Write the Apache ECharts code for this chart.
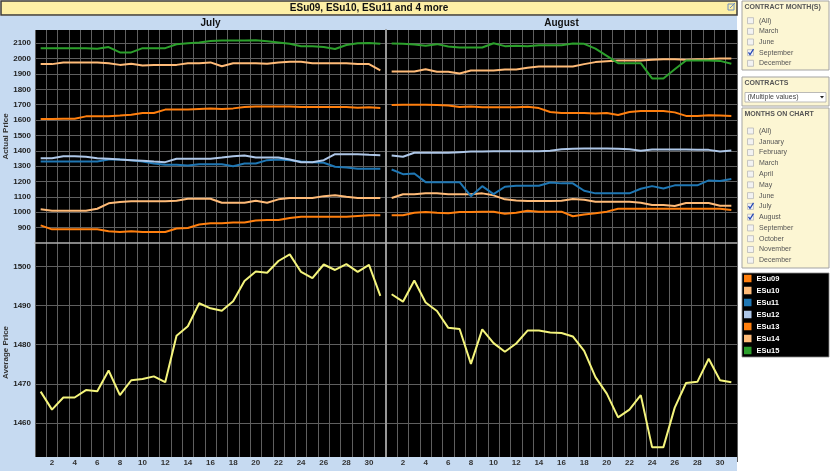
<!DOCTYPE html>
<html><head><meta charset="utf-8">
<script src="https://cdn.jsdelivr.net/npm/echarts@6/dist/echarts.min.js"></script>
<style>html,body{margin:0;padding:0;background:#fff;}#c{width:831px;height:471px;}</style>
</head><body><div id="c"></div>
<script>
const days = ['1','2','3','4','5','6','7','8','9','10','11','12','13','14','15','16','17','18','19','20','21','22','23','24','25','26','27','28','29','30','31'];
const names = ['ESu09','ESu10','ESu11','ESu12','ESu13','ESu14','ESu15'];
const colors = ['#ff7f0e','#ffbb78','#1f77b4','#aec7e8','#ff7f0e','#ffbb78','#2ca02c'];
const paneTitles = ['July','August'];
const chartTitle = 'ESu09, ESu10, ESu11 and 4 more';

const julyESu09 = [915,889,889,889,889,889,876,872,876,872,872,872,894,898,920,928,928,933,933,946,950,950,963,971,971,971,971,971,976,980,980];
const augESu09  = [980,980,997,1002,997,993,1002,1002,1004,1004,991,997,1010,1004,1004,1004,974,985,993,1004,1023,1023,1023,1023,1023,1023,1023,1023,1023,1023,1015];
const julyESu10 = [1019,1010,1010,1010,1010,1023,1058,1067,1071,1071,1071,1071,1075,1088,1088,1088,1062,1062,1062,1075,1062,1084,1093,1093,1093,1105,1110,1101,1093,1093,1093];
const augESu10  = [1093,1117,1117,1123,1123,1118,1118,1118,1123,1110,1084,1077,1073,1073,1073,1075,1086,1082,1069,1069,1069,1069,1062,1047,1047,1041,1060,1060,1060,1043,1043];
const julyESu11 = [1330,1330,1330,1330,1330,1330,1343,1343,1339,1330,1317,1309,1309,1304,1313,1313,1313,1300,1317,1317,1339,1343,1339,1330,1326,1322,1296,1291,1283,1283,1283];
const augESu11  = [1278,1248,1252,1196,1196,1196,1196,1105,1170,1118,1166,1173,1173,1173,1194,1188,1188,1140,1123,1123,1123,1123,1153,1170,1155,1175,1175,1175,1207,1203,1216];
const julyESu12 = [1352,1352,1365,1365,1361,1352,1348,1343,1339,1335,1330,1326,1348,1348,1348,1348,1356,1365,1369,1356,1356,1356,1343,1326,1326,1339,1378,1378,1378,1374,1371];
const augESu12  = [1369,1361,1387,1387,1387,1387,1391,1395,1395,1397,1397,1397,1397,1397,1400,1410,1413,1415,1415,1415,1413,1410,1400,1408,1408,1408,1408,1406,1406,1395,1402];
const julyESu13 = [1607,1607,1609,1609,1624,1624,1624,1629,1635,1646,1646,1668,1668,1668,1672,1676,1672,1676,1685,1689,1689,1689,1689,1685,1685,1685,1685,1685,1680,1683,1678];
const augESu13  = [1698,1700,1700,1700,1698,1694,1685,1689,1683,1683,1683,1683,1687,1678,1652,1646,1646,1646,1642,1646,1633,1652,1659,1659,1659,1650,1627,1627,1631,1629,1627];
const julyESu14 = [1964,1964,1975,1975,1975,1975,1970,1959,1966,1955,1959,1959,1959,1970,1970,1975,1950,1970,1970,1970,1966,1975,1979,1979,1970,1970,1970,1970,1964,1964,1923];
const augESu14  = [1916,1916,1916,1931,1914,1914,1903,1923,1923,1923,1929,1929,1940,1949,1949,1949,1949,1964,1977,1983,1988,1988,1988,1992,1996,1996,1992,1996,1998,2001,2001];
const julyESu15 = [2068,2068,2068,2068,2068,2064,2075,2040,2040,2068,2068,2068,2093,2100,2105,2115,2117,2117,2117,2120,2113,2105,2096,2080,2080,2075,2062,2088,2100,2102,2096];
const augESu15  = [2098,2096,2091,2083,2094,2078,2072,2072,2072,2100,2081,2083,2081,2087,2087,2087,2098,2096,2065,2018,1970,1970,1970,1871,1871,1931,1988,1988,1988,1985,1966];
const julyAvg = [1468.0,1463.4,1466.5,1466.5,1468.4,1468.1,1473.4,1467.1,1470.9,1471.2,1471.9,1470.4,1482.3,1484.7,1490.6,1489.3,1488.7,1491.1,1496.3,1498.7,1498.4,1501.4,1503.1,1498.6,1497.0,1500.5,1499.1,1500.6,1498.6,1500.4,1492.5];
const augAvg  = [1492.9,1491.0,1496.4,1490.8,1488.6,1484.3,1484.0,1475.1,1483.9,1480.4,1478.2,1480.3,1483.6,1483.6,1483.1,1483.0,1482.1,1478.4,1471.7,1467.5,1461.4,1463.4,1467.1,1453.8,1453.8,1463.9,1470.2,1470.5,1476.4,1470.9,1470.4];

const julySeries = [julyESu09,julyESu10,julyESu11,julyESu12,julyESu13,julyESu14,julyESu15];
const augSeries  = [augESu09,augESu10,augESu11,augESu12,augESu13,augESu14,augESu15];

const contractMonths = ['(All)','March','June','September','December'];
const contractChecked = ['September'];
const contractsValue = '(Multiple values)';
const chartMonths = ['(All)','January','February','March','April','May','June','July','August','September','October','November','December'];
const chartMonthsChecked = ['July','August'];

const FONT = '"Liberation Sans", Arial, sans-serif';
const BLUEBG = '#c6daf1';
const GRIDC = '#5f5f5f';

const chart = echarts.init(document.getElementById('c'), null, {renderer:'canvas'});

const grids = [
  {left:35, top:30, width:351, height:213},
  {left:386, top:30, width:351, height:213},
  {left:35, top:243, width:351, height:219},
  {left:386, top:243, width:351, height:219},
  {left:35, top:457, width:351, height:1, show:false},
  {left:386, top:457, width:351, height:1, show:false}
].map((g,i)=> i<4 ? Object.assign(g,{show:true, backgroundColor:'#000', borderWidth:0}) : g);

function plotX(gi, top){
  return {type:'category', gridIndex:gi, data:days, boundaryGap:true,
    axisLine: top ? {show:true, lineStyle:{color:'#b0b0b0', width:1.5}} : {show:false},
    axisTick:{show:false}, axisLabel:{show:false},
    splitLine:{show:true, interval:0, lineStyle:{color:GRIDC, width:1}}};
}
function labelX(gi){
  return {type:'category', gridIndex:gi, data:days, boundaryGap:true, z:5,
    axisLine:{show:false}, axisTick:{show:false}, splitLine:{show:false},
    axisLabel:{show:true, margin:1, interval:(i)=> i%2===1, fontSize:8, fontWeight:'bold', color:'#333', fontFamily:FONT}};
}
function plotY(gi, min, max, interval, showLabels, name, sep){
  return {type:'value', gridIndex:gi, min, max, interval,
    name: showLabels ? name : '', nameLocation:'middle', nameGap:23,
    nameTextStyle:{fontSize:8, fontWeight:'bold', color:'#333', fontFamily:FONT},
    axisLine: sep ? {show:true, lineStyle:{color:'#979797', width:2}} : {show:false},
    axisTick:{show:false},
    axisLabel:{show:showLabels, showMinLabel:false, showMaxLabel:false, margin:4, fontSize:8, fontWeight:'bold', color:'#222', fontFamily:FONT,
      formatter:(v)=> String(v)},
    splitLine:{show:true, showMinLine:false, showMaxLine:false, lineStyle:{color:GRIDC, width:1}}};
}

const series = [];
names.forEach((n,k)=>{
  [julySeries, augSeries].forEach((arr, m)=>{
    series.push({name:n, type:'line', xAxisIndex:m, yAxisIndex:m, data:arr[k],
      showSymbol:false, symbol:'none', lineStyle:{width:2, color:colors[k]}, itemStyle:{color:colors[k]},
      emphasis:{disabled:true}, z:2});
  });
});
[julyAvg, augAvg].forEach((arr,m)=>{
  series.push({name:'Average Price', type:'line', xAxisIndex:2+m, yAxisIndex:2+m, data:arr,
    showSymbol:false, symbol:'none', lineStyle:{width:2, color:'#f4f47c'}, itemStyle:{color:'#f4f47c'},
    emphasis:{disabled:true}, z:2});
});

// ---- decorative / filter panel graphics ----
const g = [];
g.push({type:'rect', z:-10, shape:{x:0,y:16,width:737,height:455}, style:{fill:BLUEBG}});
g.push({type:'rect', z:1, shape:{x:35,y:457,width:702,height:14}, style:{fill:BLUEBG}});
g.push({type:'rect', z:1, shape:{x:1,y:1,width:736,height:14}, style:{fill:'#fdefa6', stroke:'#3a3a3a', lineWidth:1.5}});
g.push({type:'text', z:2, x:369, y:8.5, style:{text:chartTitle, font:'bold 10px '+FONT, fill:'#111', align:'center', verticalAlign:'middle'}});
g.push({type:'rect', z:2, shape:{x:728,y:4,width:6,height:6}, style:{fill:'none', stroke:'#6f8fbf', lineWidth:1}});
g.push({type:'line', z:2, shape:{x1:730,y1:8,x2:735,y2:3}, style:{stroke:'#6f8fbf', lineWidth:1}});
g.push({type:'text', z:2, x:210.5, y:23.5, style:{text:paneTitles[0], font:'bold 10px '+FONT, fill:'#111', align:'center', verticalAlign:'middle'}});
g.push({type:'text', z:2, x:561.5, y:23.5, style:{text:paneTitles[1], font:'bold 10px '+FONT, fill:'#111', align:'center', verticalAlign:'middle'}});

function panel(y, h, title){
  g.push({type:'rect', z:1, shape:{x:742,y:y,width:87,height:h}, style:{fill:'#fcf6d3', stroke:'#a3a3a3', lineWidth:1}});
  g.push({type:'text', z:2, x:744.5, y:y+6, style:{text:title, font:'bold 7px '+FONT, fill:'#555', verticalAlign:'middle'}});
}
function checkItem(y, label, checked){
  g.push({type:'rect', z:2, shape:{x:747.5,y:y-3,width:6,height:6}, style:{fill:'#f2f2f2', stroke:'#b9b9b9', lineWidth:0.8}});
  if (checked) g.push({type:'polyline', z:3, shape:{points:[[748.5,y-0.3],[750,y+2],[753.5,y-3.5]]}, style:{stroke:'#2246b5', lineWidth:1.2, fill:'none'}});
  g.push({type:'text', z:2, x:759, y:y, style:{text:label, font:'7px '+FONT, fill:'#555', verticalAlign:'middle'}});
}
panel(1, 69, 'CONTRACT MONTH(S)');
contractMonths.forEach((m,i)=> checkItem(20.7 + i*10.65, m, contractChecked.includes(m)));
panel(77, 29, 'CONTRACTS');
g.push({type:'rect', z:2, shape:{x:745,y:92.5,width:81,height:9.5}, style:{fill:'#fff', stroke:'#a9a9a9', lineWidth:0.8}});
g.push({type:'text', z:3, x:747.5, y:97.3, style:{text:contractsValue, font:'7px '+FONT, fill:'#444', verticalAlign:'middle'}});
g.push({type:'polygon', z:3, shape:{points:[[820,96],[824,96],[822,98.5]]}, style:{fill:'#222'}});
panel(108, 160, 'MONTHS ON CHART');
chartMonths.forEach((m,i)=> checkItem(131 + i*10.77, m, chartMonthsChecked.includes(m)));
g.push({type:'rect', z:1, shape:{x:742,y:273,width:87,height:84}, style:{fill:'#000', stroke:'#888', lineWidth:0.8}});

const option = {
  animation:false,
  textStyle:{fontFamily:FONT},
  grid: grids,
  xAxis:[plotX(0,true), plotX(1,true), plotX(2,false), plotX(3,false), labelX(4), labelX(5)],
  yAxis:[
    plotY(0, 800, 2186, 100, true, 'Actual Price', false),
    plotY(1, 800, 2186, 100, false, '', true),
    plotY(2, 1450, 1506, 10, true, 'Average Price', false),
    plotY(3, 1450, 1506, 10, false, '', true),
    {type:'value', gridIndex:4, show:false},
    {type:'value', gridIndex:5, show:false}
  ],
  legend:{data:names, orient:'vertical', left:744, top:274.5, padding:0, itemWidth:7.5, itemHeight:7.5, itemGap:4,
    icon:'rect', selectedMode:false, z:6,
    textStyle:{color:'#fff', fontWeight:'bold', fontSize:7.5, lineHeight:7.5, fontFamily:FONT}},
  graphic:{elements:g},
  series
};
chart.setOption(option);
</script></body></html>
